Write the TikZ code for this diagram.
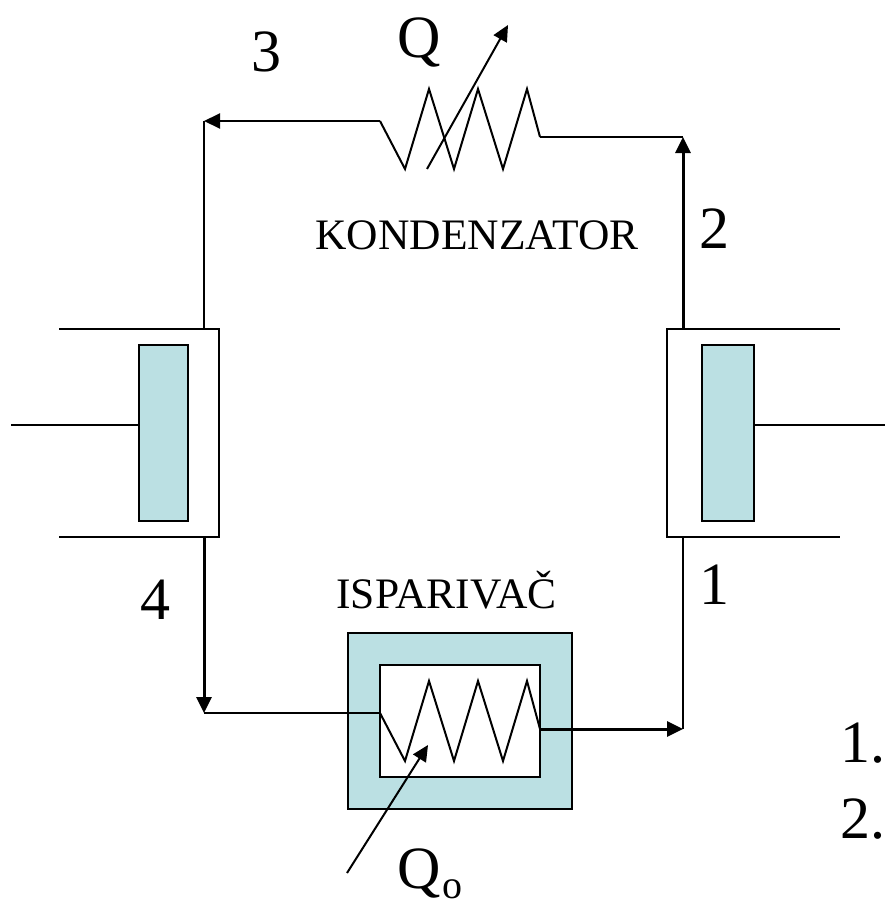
\documentclass[tikz,border=0pt]{standalone}
\usepackage{fontspec}
\setmainfont{Liberation Serif}
\usetikzlibrary{arrows.meta}
\definecolor{coolblue}{RGB}{187,224,227}

\begin{document}
\begin{tikzpicture} [x=1pt, y=-1pt,
				line/.style={
				% The border:
				line width=2pt, draw=black
				},
				flow/.style={
				line, -{Triangle[length=16pt,width=15pt]}
				},
				heavyflow/.style={
				flow, line width=3pt
				},
				tank/.style={
				% The shape:
				rectangle, inner sep=0pt,
				% The border:
				line width=2pt, draw=black,
				% The filling:
				fill=coolblue
				},
				big/.style={
				% The font:
				font=\fontsize{60}{60}\selectfont, inner sep=0pt
				},
				title/.style={
				font=\fontsize{43.5}{44}\selectfont, inner sep=0pt
				},
				]
    \useasboundingbox (0,0) rectangle (885,907);
    % evaporator housing
    \node [tank, minimum width=224pt, minimum height=176pt] (housing) at (460,721) {};
    \node [tank, fill=white, minimum width=160pt, minimum height=112pt] (chamber) at (460,721) {};
    % pistons
    \node [tank, minimum width=49pt, minimum height=176pt] (pistonL) at (163.5,433) {};
    \node [tank, minimum width=52pt, minimum height=176pt] (pistonR) at (728,433) {};
    % cylinders
    \coordinate (cylLtop) at (59,329);
    \coordinate (cylLend) at (219,329);
    \coordinate (cylLfoot) at (219,537);
    \coordinate (cylLbot) at (59,537);
    \coordinate (cylRtop) at (840,329);
    \coordinate (cylRend) at (667,329);
    \coordinate (cylRfoot) at (667,537);
    \coordinate (cylRbot) at (840,537);
    \draw [line] (cylLtop) -- (cylLend) -- (cylLfoot) -- (cylLbot);
    \draw [line] (cylRtop) -- (cylRend) -- (cylRfoot) -- (cylRbot);
    % rods
    \coordinate (rodL) at (11,425);
    \coordinate (rodR) at (885,425);
    \draw [line] (rodL) -- (rodL -| pistonL.west);
    \draw [line] (rodR) -- (rodR -| pistonR.east);
    % corners of the circuit
    \coordinate (outL) at (204,329);
    \coordinate (cornerTL) at (204,121);
    \coordinate (condIn) at (380,121);
    \coordinate (condOut) at (540,137);
    \coordinate (cornerTR) at (683,137);
    \coordinate (outR) at (683,329);
    \coordinate (inL) at (204,537);
    \coordinate (cornerBL) at (204,713);
    \coordinate (evapIn) at (380,713);
    \coordinate (evapOut) at (540,729);
    \coordinate (cornerBR) at (683,729);
    \coordinate (inR) at (683,537);
    \coordinate (heatFrom) at (427,169);
    \coordinate (heatTo) at (508,25);
    \coordinate (coldFrom) at (347,873);
    \coordinate (coldTo) at (428,745);
    % coils
    \draw [line, line join=miter] (condIn) -- ++(25,48) -- ++(24,-80) -- ++(25,80) -- ++(24,-80) -- ++(25,80) -- ++(24,-80) -- (condOut);
    \draw [line, line join=miter] (evapIn) -- ++(25,48) -- ++(24,-80) -- ++(25,80) -- ++(24,-80) -- ++(25,80) -- ++(24,-80) -- (evapOut);
    % circuit
    \draw [flow] (condIn) -- (cornerTL);
    \draw [line] (cornerTL) -- (outL);
    \draw [line] (condOut) -- (cornerTR);
    \draw [heavyflow] (outR) -- (cornerTR);
    \draw [heavyflow] (evapOut) -- (cornerBR);
    \draw [line] (cornerBR) -- (inR);
    \draw [heavyflow] (inL) -- (cornerBL);
    \draw [line] (cornerBL) -- (evapIn);
    \draw [flow] (heatFrom) -- (heatTo);
    \draw [flow] (coldFrom) -- (coldTo);
    % labels
    \node [big] (n3) at (266,52) {3};
    \node [big] (n2) at (714,229) {2};
    \node [big] (n1) at (714,585) {1};
    \node [big] (n4) at (155,600) {4};
    \node [big] (heat) at (419,42) {Q};
    \node [big, anchor=base west] (cold) at (397,888) {Q\kern2pt\raisebox{-10pt}{\fontsize{40}{40}\selectfont o}};
    \node [title] (kond) at (477,235) {KONDENZATOR};
    \node [title] (evap) at (446.5,590) {ISPARIVAČ};
    \node [big, anchor=base west] (item1) at (840,762) {1.};
    \node [big, anchor=base west] (item2) at (840,838) {2.};
\end{tikzpicture}
\end{document}
